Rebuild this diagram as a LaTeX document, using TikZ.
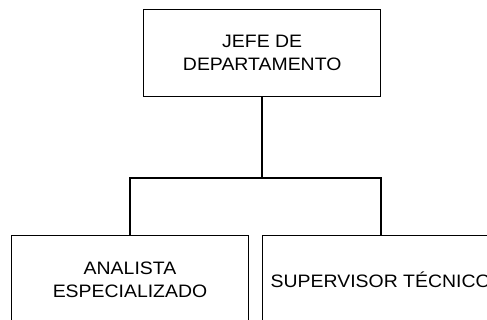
\documentclass[tikz,border=0pt]{standalone}
\usepackage{fontspec}
\setmainfont{Liberation Sans}[FakeStretch=1.08]
\begin{document}
\begin{tikzpicture}[x=1pt,y=-1pt,
  orgbox/.style={draw=black,line width=0.9pt,rectangle,inner sep=0pt,
    minimum width=236.8pt,minimum height=87.5pt,align=center,
    font=\fontsize{18}{22.7}\selectfont},
  conn/.style={draw=black,line width=2pt}]
\useasboundingbox (0,0) rectangle (487,320);
\clip (0,0) rectangle (487,320);
\fill[white] (0,0) rectangle (487,320);
\node[orgbox] (jefe) at (262.2,53.2) {JEFE DE\\DEPARTAMENTO};
\node[orgbox] (ana) at (130,279.5) {ANALISTA\\ESPECIALIZADO};
\node[orgbox] (sup) at (380.7,279.5) {SUPERVISOR TÉCNICO};
\coordinate (j) at (262.2,178);
\draw[conn] (jefe.south) -- (j);
\draw[conn] (ana.north) |- (j) -| (sup.north);
\end{tikzpicture}
\end{document}
